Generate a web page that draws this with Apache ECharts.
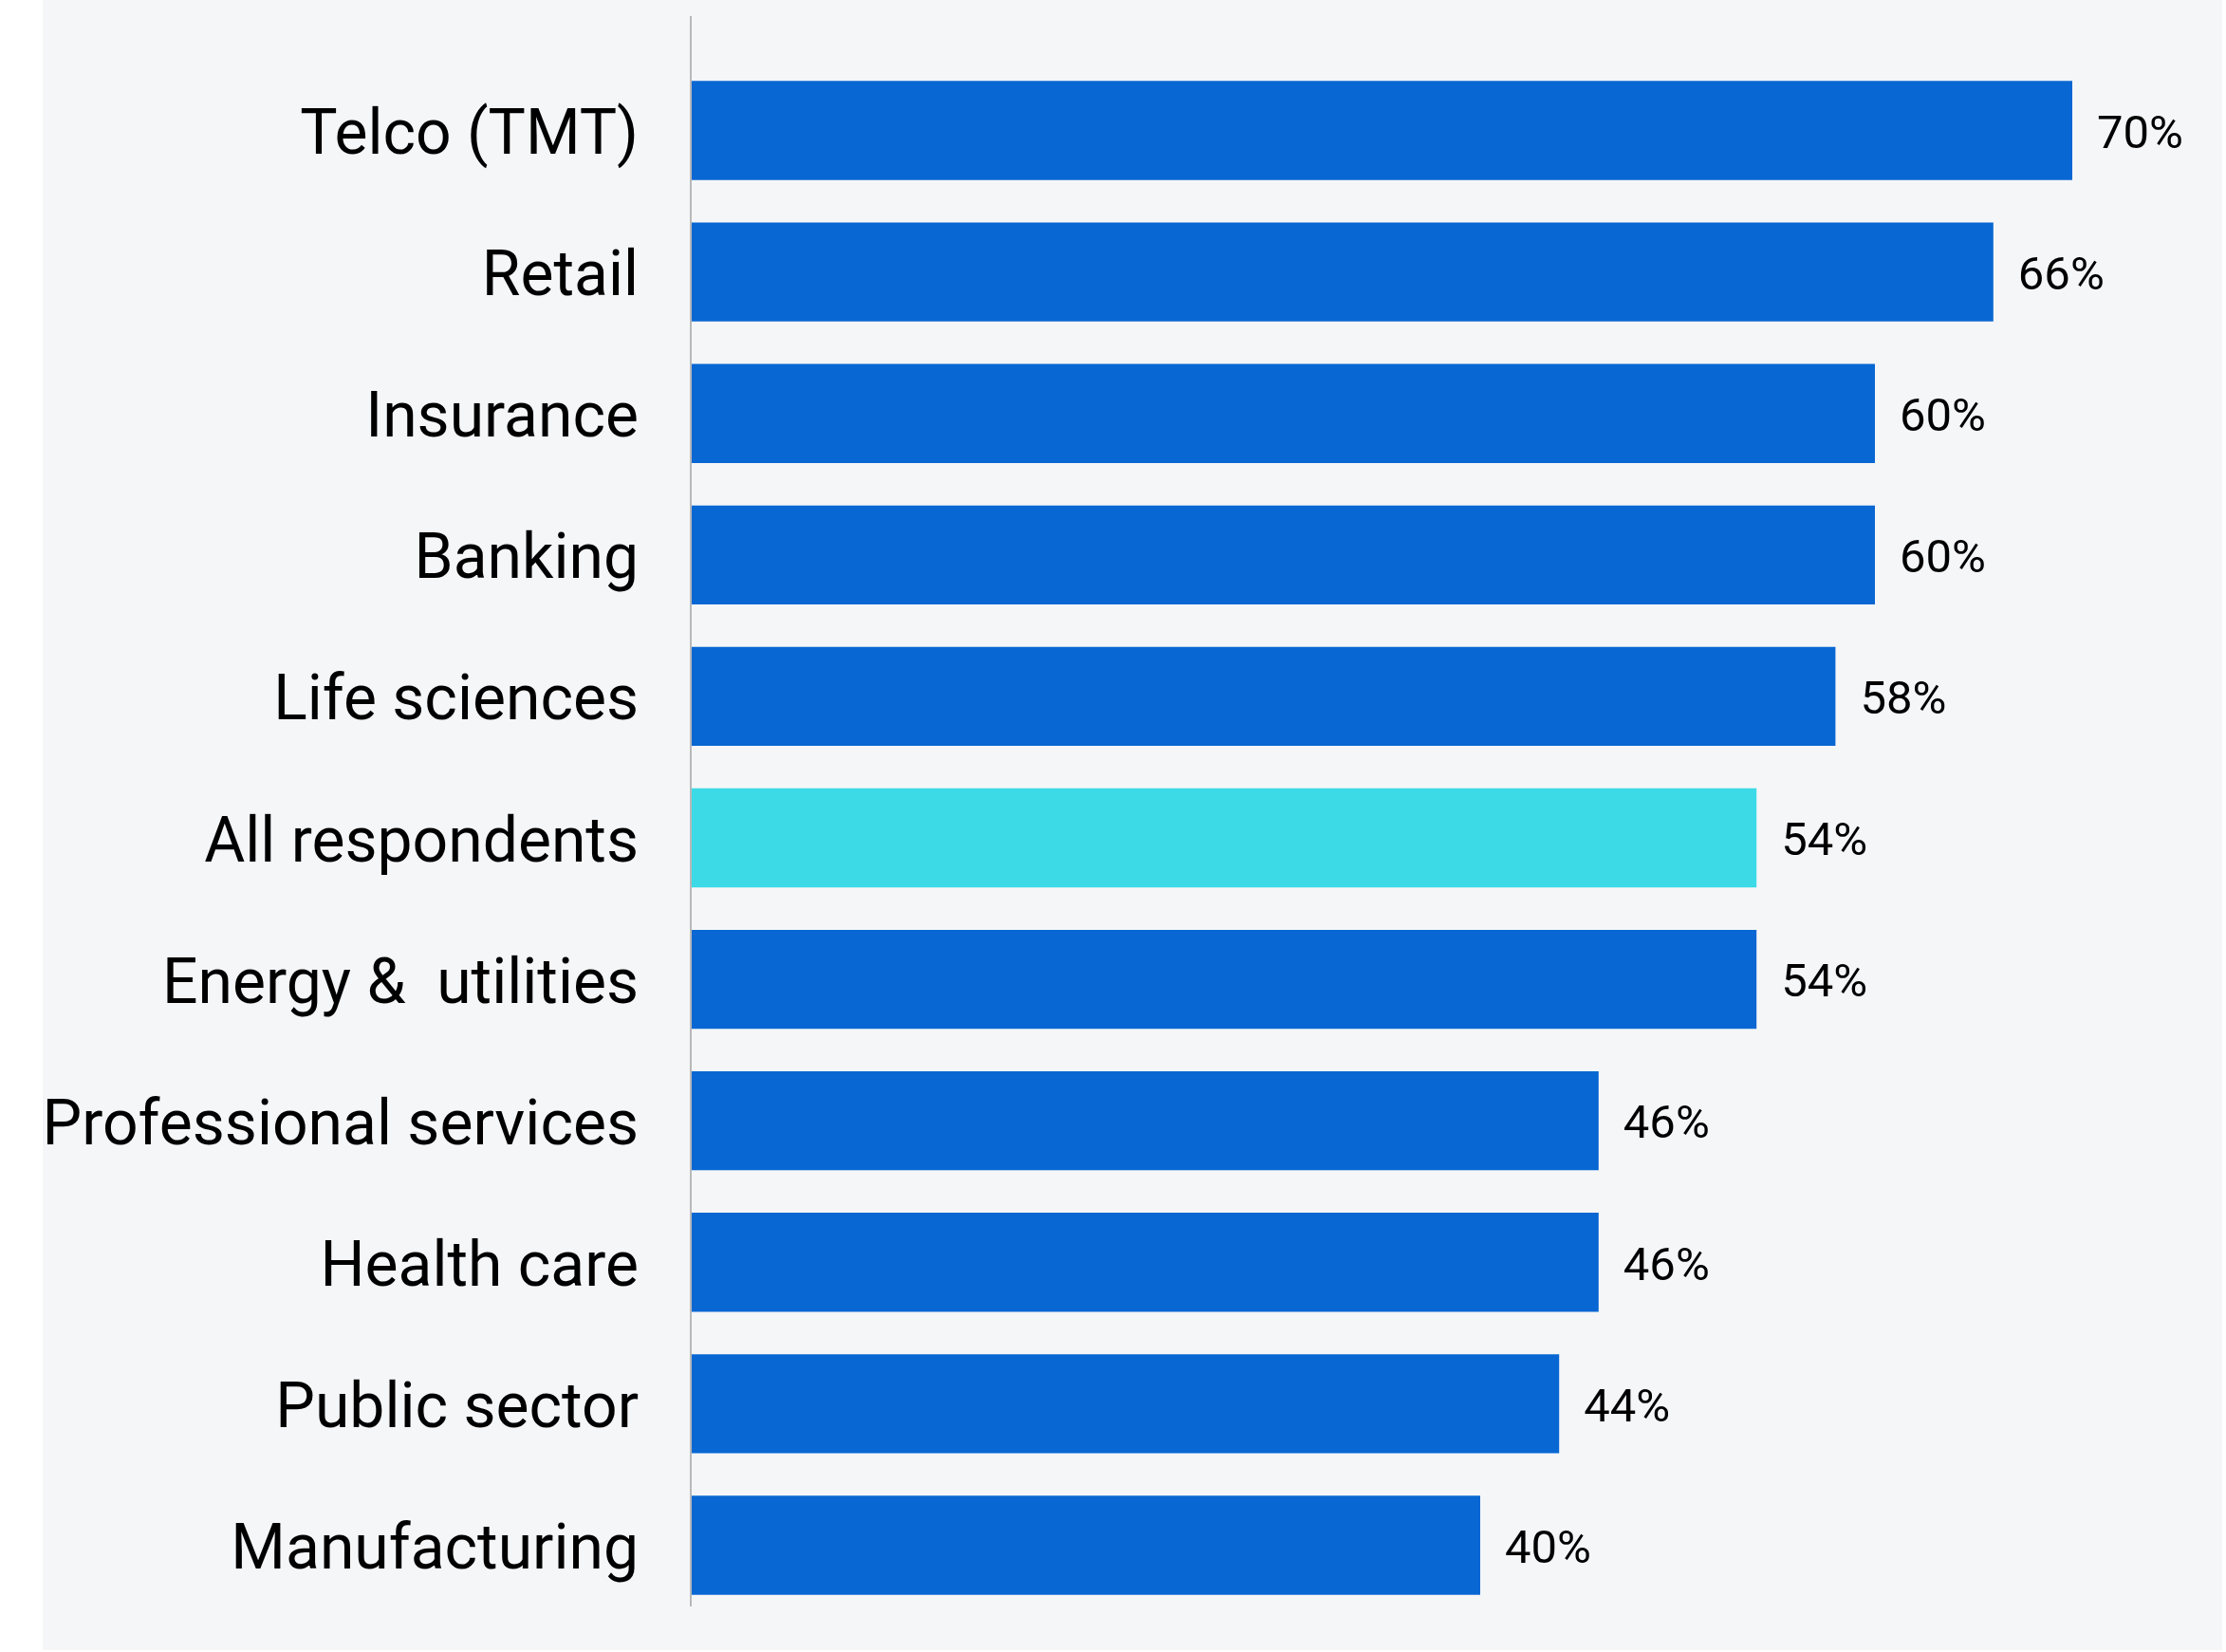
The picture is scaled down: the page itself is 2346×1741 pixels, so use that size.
<!DOCTYPE html>
<html>
<head>
<meta charset="utf-8">
<script src="https://cdn.jsdelivr.net/npm/echarts@6/dist/echarts.min.js"></script>
<style>
  html, body { margin: 0; padding: 0; background: #ffffff; }
  #industry-chart {
    position: absolute;
    left: 45px;
    top: 0;
    width: 2297px;
    height: 1739px;
  }
</style>
</head>
<body>
<div id="industry-chart"></div>
<script>
// categories, top to bottom
const categories = [
  "Telco (TMT)",
  "Retail",
  "Insurance",
  "Banking",
  "Life sciences",
  "All respondents",
  "Energy &  utilities",
  "Professional services",
  "Health care",
  "Public sector",
  "Manufacturing",
];
// share of respondents, %
const values = [70, 66, 60, 60, 58, 54, 54, 46, 46, 44, 40];
const highlight = "All respondents";

const BLUE = "#0867d2";
const CYAN = "#3bdae6";

let chart = echarts.init(document.getElementById("industry-chart"));

let seriesData = values.map(function (v, i) {
  return {
    value: v,
    itemStyle: { color: categories[i] === highlight ? CYAN : BLUE },
  };
});

let option = {
  backgroundColor: "#f5f6f8",
  animation: false,
  grid: {
    left: 683,
    top: 63,
    right: 54,
    bottom: 36,
    outerBoundsMode: "none",
  },
  xAxis: {
    type: "value",
    min: 0,
    max: 75,
    show: false,
  },
  yAxis: {
    type: "category",
    inverse: true,
    data: categories,
    axisLine: { show: false },
    axisTick: { show: false },
    axisLabel: {
      margin: 55,
      color: "#000000",
      fontSize: 66,
      fontFamily: "Roboto",
      formatter: function (v) {
        return "{a|" + v + "}";
      },
      rich: {
        a: {
          color: "#000000",
          fontSize: 66,
          fontFamily: "Roboto",
          padding: [16, 0, 0, 0],
        },
      },
    },
  },
  series: [
    {
      type: "bar",
      data: seriesData,
      barCategoryGap: "30%",
      label: {
        show: true,
        position: "right",
        distance: 26,
        offset: [0, 6],
        formatter: "{c}%",
        color: "#000000",
        fontSize: 49,
        fontFamily: "Roboto",
      },
    },
  ],
};
chart.setOption(option);

// vertical baseline, runs a bit past the bars at top
let x0 = chart.convertToPixel({ xAxisIndex: 0 }, 0);
chart.setOption({
  graphic: [
    {
      type: "line",
      shape: { x1: x0, y1: 17, x2: x0, y2: 1693 },
      style: { stroke: "#b8b8b8", lineWidth: 2 },
      z: 10,
    },
  ],
});
</script>
</body>
</html>
